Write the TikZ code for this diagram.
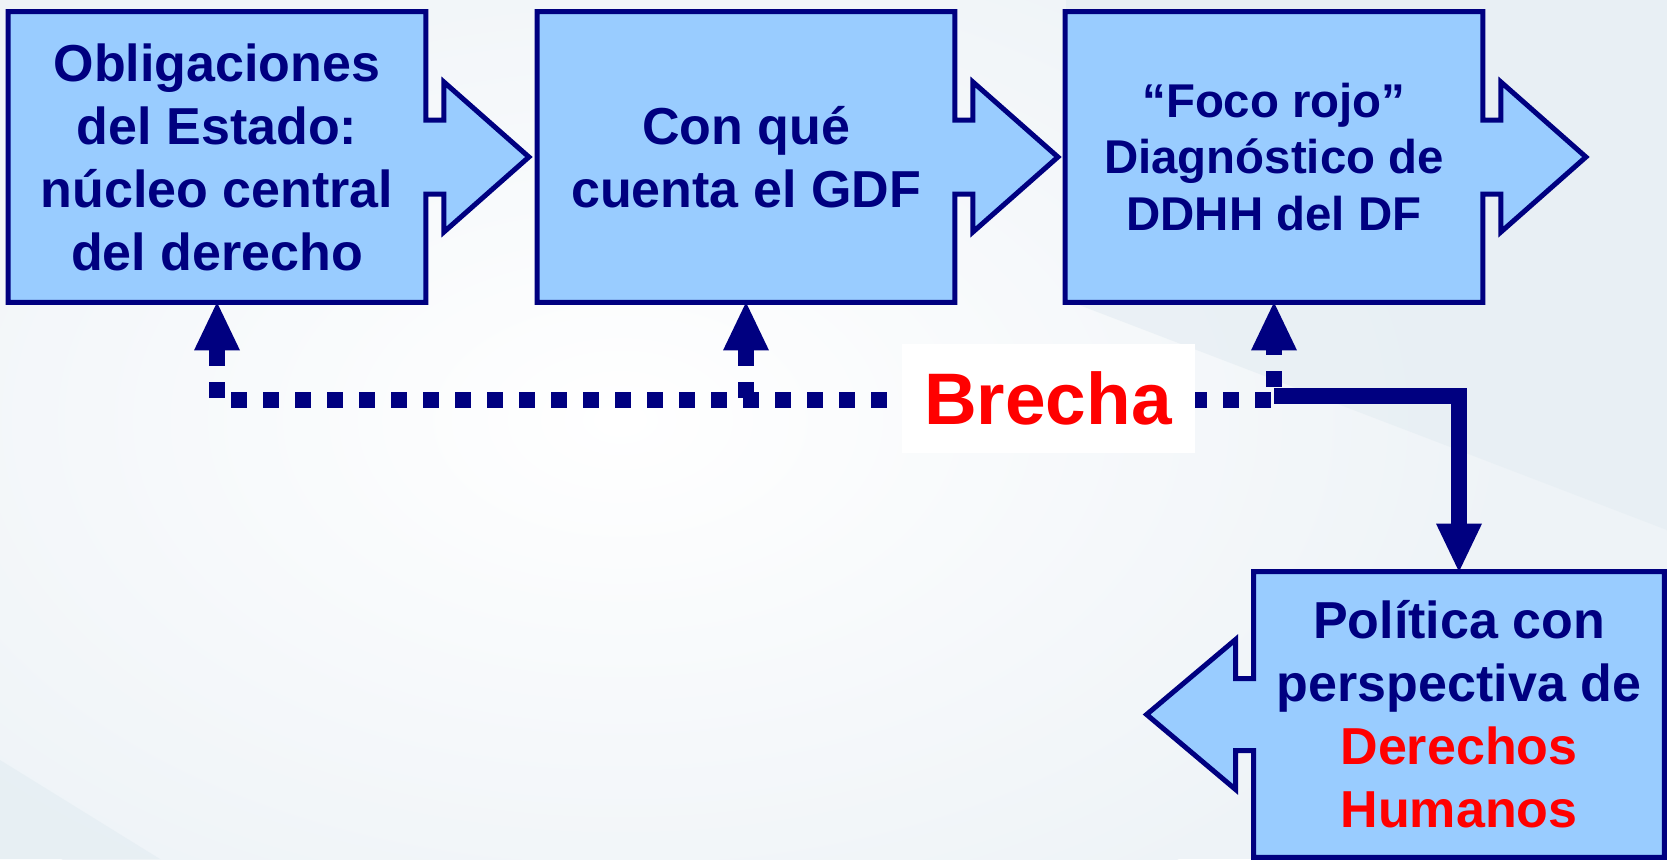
\documentclass[tikz,border=0pt]{standalone}
\usepackage{fontspec}
\setmainfont{Liberation Sans}
\usetikzlibrary{arrows.meta,calc}
\definecolor{navy}{HTML}{000080}
\definecolor{boxblue}{HTML}{99CCFF}
\definecolor{bgedge}{HTML}{E6EEF3}
\definecolor{bgpale}{HTML}{EEF3F7}
\definecolor{brred}{HTML}{FF0000}
\pgfdeclarelayer{back}
\pgfdeclarelayer{boxes}
\pgfsetlayers{back,boxes,main}
\begin{document}
\begin{tikzpicture}[x=0.5pt,y=-0.5pt,
	stepbox/.style={minimum width=208.5pt,minimum height=145pt,inner sep=0pt,align=center,text=navy,font=\bfseries\fontsize{26}{31.5}\selectfont},
	outline/.style={fill=boxblue,draw=navy,line width=2.5pt,line join=miter},
	dotline/.style={draw=navy,line width=8pt,dash pattern=on 8pt off 8pt},
	fullline/.style={draw=navy,line width=8pt},
	>={Triangle[width=23pt,length=24pt,line width=0pt]}]
	\useasboundingbox (0,0) rectangle (1667,859);
	\begin{pgfonlayer}{back}
	\fill[bgpale] (0,0) rectangle (1667,859);
	\shade[inner color=white,outer color=bgpale] (620,420) ellipse (900 and 560);
	\fill[bgedge,opacity=0.7] (1066,300) -- (1667,530) -- (1667,0) -- (1066,0) -- cycle;
	\fill[bgedge,opacity=0.8] (0,760) -- (160,859) -- (0,859) -- cycle;
	\end{pgfonlayer}
	% boxes
	\node[stepbox] (oblig) at (217,157) {Obligaciones\\del Estado:\\núcleo central\\del derecho};
	\node[stepbox] (cuenta) at (746,157) {Con qué\\cuenta el GDF};
	\node[stepbox,font=\bfseries\fontsize{23.7}{28.4}\selectfont] (foco) at (1274,157) {“Foco rojo”\\Diagnóstico de\\DDHH del DF};
	\node[stepbox,minimum width=205pt,minimum height=142.5pt] (politica) at (1459,714.5) {Política con\\perspectiva de\\\textcolor{brred}{Derechos}\\\textcolor{brred}{Humanos}};
	\begin{pgfonlayer}{boxes}
	\foreach \n in {oblig,cuenta,foco}
		\draw[outline] (\n.north west) -- (\n.north east) -- ([yshift=18.5pt]\n.east) -- ([xshift=9pt,yshift=18.5pt]\n.east) -- ([xshift=9pt,yshift=37.5pt]\n.east) -- ([xshift=51.5pt]\n.east) -- ([xshift=9pt,yshift=-37.5pt]\n.east) -- ([xshift=9pt,yshift=-18.5pt]\n.east) -- ([yshift=-18.5pt]\n.east) -- (\n.south east) -- (\n.south west) -- cycle;
	\draw[outline] (politica.north east) -- (politica.north west) -- ([yshift=18pt]politica.west) -- ([xshift=-9pt,yshift=18pt]politica.west) -- ([xshift=-9pt,yshift=37.5pt]politica.west) -- ([xshift=-53.5pt]politica.west) -- ([xshift=-9pt,yshift=-37.5pt]politica.west) -- ([xshift=-9pt,yshift=-18pt]politica.west) -- ([yshift=-18pt]politica.west) -- (politica.south west) -- (politica.south east) -- cycle;
	\end{pgfonlayer}
	% connectors
	\coordinate (rail) at (0,400);
	\draw[fullline,->] ([yshift=2pt]foco.south |- rail) -| (politica.north);
	\draw[dotline,<->] (oblig.south) -- (oblig.south |- rail) -- (foco.south |- rail) -- (foco.south);
	\draw[dotline,<-] (cuenta.south) -- (cuenta.south |- rail);
	\node[fill=white,minimum width=146.5pt,minimum height=54.5pt,inner sep=0pt,text=brred,font=\bfseries\fontsize{36.5}{40}\selectfont] (brecha) at (1048,398) {Brecha};
\end{tikzpicture}
\end{document}
